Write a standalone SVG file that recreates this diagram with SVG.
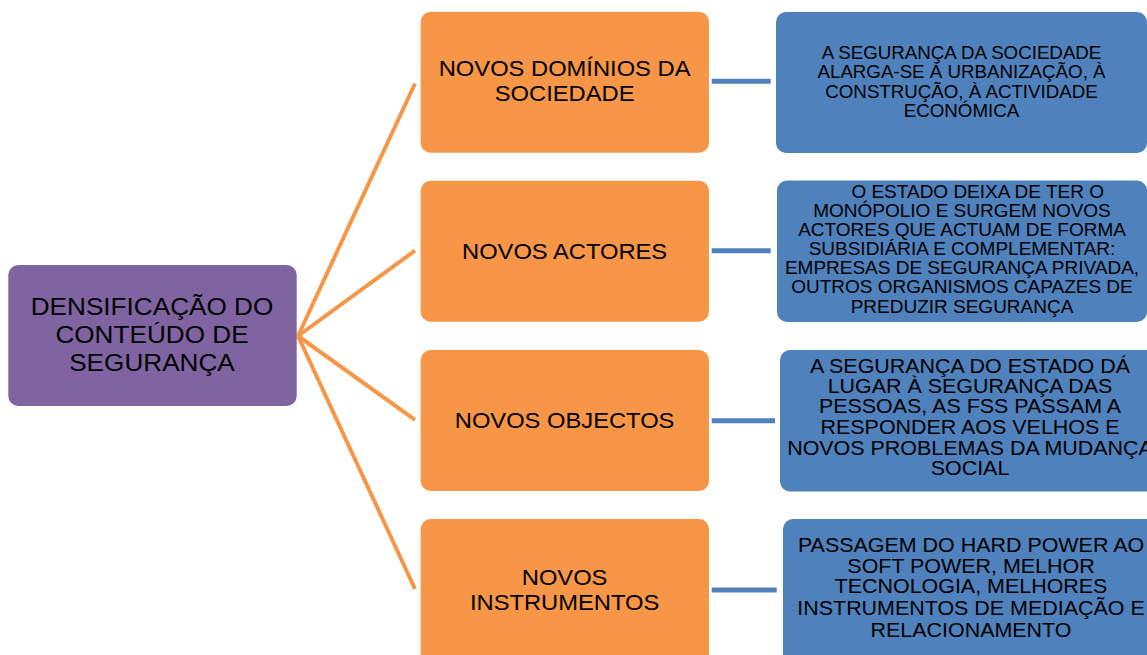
<svg xmlns="http://www.w3.org/2000/svg" width="1147" height="655" viewBox="0 0 1147 655">
<style>
.t{font-family:"Liberation Sans",Arial,sans-serif;fill:#000;text-anchor:middle}
.root{fill:#8064A2}
.mid{fill:#F79646}
.leaf{fill:#4F81BD}
.oc{stroke:#F79646;stroke-width:4;fill:none}
.bc{stroke:#4F81BD;stroke-width:5;fill:none}
</style>
<rect width="1147" height="655" fill="#fff"/>
<g id="connectors">
<line class="oc" x1="298" y1="336" x2="415" y2="83.5"/>
<line class="oc" x1="298" y1="336" x2="415" y2="250.6"/>
<line class="oc" x1="298" y1="336" x2="415" y2="419.8"/>
<line class="oc" x1="298" y1="336" x2="415" y2="589"/>
<line class="bc" x1="711.7" y1="81.3" x2="770.7" y2="81.3"/>
<line class="bc" x1="711.7" y1="250.7" x2="770.7" y2="250.7"/>
<line class="bc" x1="711.7" y1="420.7" x2="775" y2="420.7"/>
<line class="bc" x1="711.7" y1="590" x2="776.7" y2="590"/>
</g>
<g id="root">
<rect class="root" x="8.3" y="265" width="288.4" height="141" rx="10"/>
<text class="t" font-size="24" transform="translate(152 0) scale(1.09 1)"><tspan x="0" y="315">DENSIFICAÇÃO DO</tspan><tspan x="0" y="343.3">CONTEÚDO DE</tspan><tspan x="0" y="370.7">SEGURANÇA</tspan></text>
</g>
<g id="n1">
<rect class="mid" x="420.7" y="11.7" width="288.3" height="141" rx="10"/>
<text class="t" font-size="22.5" transform="translate(564.6 0) scale(1.055 1)"><tspan x="0" y="76">NOVOS DOMÍNIOS DA</tspan><tspan x="0" y="101">SOCIEDADE</tspan></text>
</g>
<g id="n2">
<rect class="mid" x="420.7" y="180.7" width="288.3" height="141" rx="10"/>
<text class="t" font-size="22.5" transform="translate(564.6 0) scale(1.055 1)" x="0" y="259.3">NOVOS ACTORES</text>
</g>
<g id="n3">
<rect class="mid" x="420.7" y="350" width="288.3" height="141" rx="10"/>
<text class="t" font-size="22.5" transform="translate(564.6 0) scale(1.055 1)" x="0" y="428.3">NOVOS OBJECTOS</text>
</g>
<g id="n4">
<rect class="mid" x="420.7" y="519" width="288.3" height="150" rx="10"/>
<text class="t" font-size="22.5" transform="translate(564.6 0) scale(1.055 1)"><tspan x="0" y="585">NOVOS</tspan><tspan x="0" y="610">INSTRUMENTOS</tspan></text>
</g>
<g id="d1">
<rect class="leaf" x="776" y="12" width="371" height="141" rx="10"/>
<text class="t" font-size="17.5" transform="translate(961.5 0) scale(1.07 1)"><tspan x="0" y="59.3">A SEGURANÇA DA SOCIEDADE</tspan><tspan x="0" y="78.3">ALARGA-SE À URBANIZAÇÃO, À</tspan><tspan x="0" y="97.7">CONSTRUÇÃO,  À ACTIVIDADE</tspan><tspan x="0" y="116.7">ECONÓMICA</tspan></text>
</g>
<g id="d2">
<rect class="leaf" x="777" y="180.5" width="370" height="141.5" rx="10"/>
<text class="t" font-size="17.6" transform="translate(962 0) scale(1.08 1)"><tspan x="14.5" y="198.3">O ESTADO DEIXA DE TER O</tspan><tspan x="0" y="217">MONÓPOLIO E SURGEM NOVOS</tspan><tspan x="0" y="236">ACTORES QUE ACTUAM DE FORMA</tspan><tspan x="0" y="255">SUBSIDIÁRIA E COMPLEMENTAR:</tspan><tspan x="0" y="274">EMPRESAS DE SEGURANÇA PRIVADA,</tspan><tspan x="0" y="293.3">OUTROS ORGANISMOS CAPAZES DE</tspan><tspan x="0" y="312.7">PREDUZIR SEGURANÇA</tspan></text>
</g>
<g id="d3">
<rect class="leaf" x="780" y="350" width="385" height="141.5" rx="10"/>
<text class="t" font-size="19.5" transform="translate(970 0) scale(1.1 1)"><tspan x="0" y="373.3">A SEGURANÇA DO ESTADO DÁ</tspan><tspan x="0" y="393.3">LUGAR À SEGURANÇA DAS</tspan><tspan x="0" y="413.3">PESSOAS, AS FSS PASSAM A</tspan><tspan x="0" y="434.3">RESPONDER AOS VELHOS E</tspan><tspan x="0" y="455">NOVOS PROBLEMAS DA MUDANÇA</tspan><tspan x="0" y="475">SOCIAL</tspan></text>
</g>
<g id="d4">
<rect class="leaf" x="783" y="519" width="385" height="150" rx="10"/>
<text class="t" font-size="19.5" transform="translate(971 0) scale(1.1 1)"><tspan x="0" y="551.7">PASSAGEM DO HARD POWER AO</tspan><tspan x="0" y="572.7">SOFT POWER,  MELHOR</tspan><tspan x="0" y="593.3">TECNOLOGIA, MELHORES</tspan><tspan x="0" y="615">INSTRUMENTOS DE MEDIAÇÃO E</tspan><tspan x="0" y="636.7">RELACIONAMENTO</tspan></text>
</g>
</svg>
